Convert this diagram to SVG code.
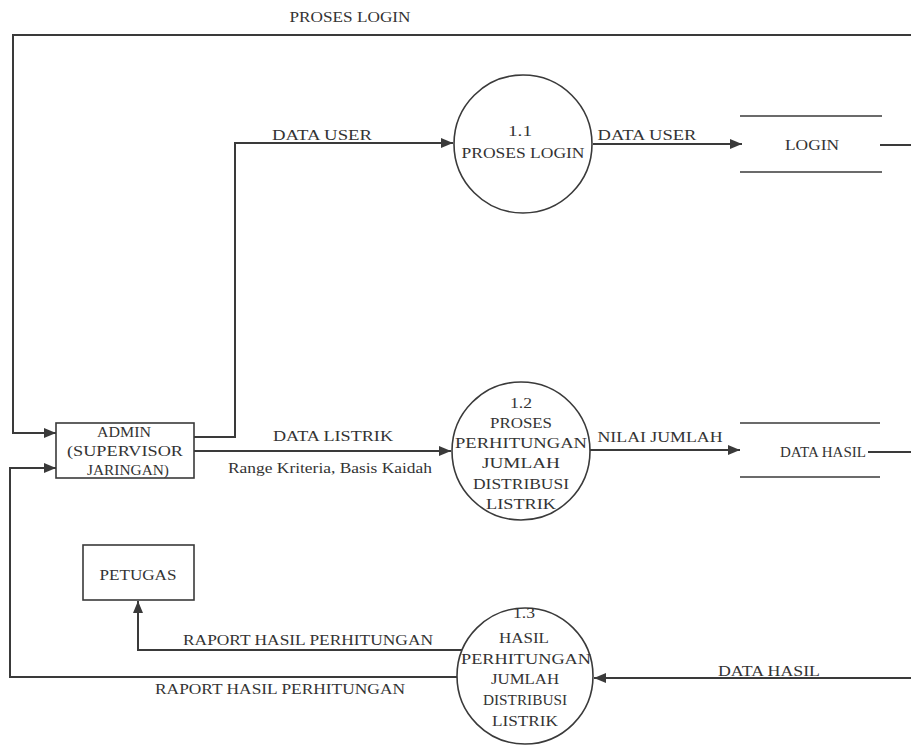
<svg xmlns="http://www.w3.org/2000/svg" width="911" height="745" viewBox="0 0 911 745">
<style>
text{font-family:'Liberation Serif','Times New Roman','DejaVu Serif',serif;font-size:14px;fill:#333;text-anchor:middle}
.ln{fill:none;stroke:#3a3a3a;stroke-width:2}
.shape{fill:#fff;stroke:#3a3a3a;stroke-width:1.6}
.st{stroke:#3a3a3a;stroke-width:1.6}
</style>
<defs>
<marker id="ar" markerUnits="userSpaceOnUse" markerWidth="13" markerHeight="11" refX="12" refY="5" orient="auto">
<path d="M0,0 L12,5 L0,10 z" fill="#3a3a3a"/>
</marker>
</defs>
<rect width="911" height="745" fill="#fff"/>
<g id="connectors">
<path class="ln" d="M911,35 H13 V433 H56" marker-end="url(#ar)"/>
<path class="ln" d="M194,437 H235 V143 H453" marker-end="url(#ar)"/>
<path class="ln" d="M593,144 H742" marker-end="url(#ar)"/>
<path class="ln" d="M880,145 H911"/>
<path class="ln" d="M194,451 H451" marker-end="url(#ar)"/>
<path class="ln" d="M590,450 H740" marker-end="url(#ar)"/>
<path class="ln" d="M868,452 H911"/>
<path class="ln" d="M911,678 H594" marker-end="url(#ar)"/>
<path class="ln" d="M462,650 H138 V601" marker-end="url(#ar)"/>
<path class="ln" d="M457,677 H10 V468 H56" marker-end="url(#ar)"/>
<text x="350" y="22" textLength="121" lengthAdjust="spacingAndGlyphs">PROSES LOGIN</text>
<text x="322" y="140" textLength="100" lengthAdjust="spacingAndGlyphs">DATA USER</text>
<text x="647" y="140" textLength="99" lengthAdjust="spacingAndGlyphs">DATA USER</text>
<text x="333" y="441" textLength="120" lengthAdjust="spacingAndGlyphs">DATA LISTRIK</text>
<text x="330" y="473" textLength="204" lengthAdjust="spacingAndGlyphs">Range Kriteria, Basis Kaidah</text>
<text x="660" y="442" textLength="125" lengthAdjust="spacingAndGlyphs">NILAI JUMLAH</text>
<text x="769" y="676" textLength="102" lengthAdjust="spacingAndGlyphs">DATA HASIL</text>
<text x="308" y="645" textLength="250" lengthAdjust="spacingAndGlyphs">RAPORT HASIL PERHITUNGAN</text>
<text x="280" y="694" textLength="250" lengthAdjust="spacingAndGlyphs">RAPORT HASIL PERHITUNGAN</text>
</g>
<g id="admin">
<rect class="shape" x="56" y="423" width="138" height="55"/>
<text x="124" y="437" textLength="54" lengthAdjust="spacingAndGlyphs">ADMIN</text>
<text x="125" y="456" textLength="116" lengthAdjust="spacingAndGlyphs">(SUPERVISOR</text>
<text x="128" y="475" textLength="82" lengthAdjust="spacingAndGlyphs">JARINGAN)</text>
</g>
<g id="petugas">
<rect class="shape" x="83" y="545" width="111" height="55"/>
<text x="138" y="580" textLength="77" lengthAdjust="spacingAndGlyphs">PETUGAS</text>
</g>
<g id="p11">
<circle class="shape" cx="523" cy="144" r="69"/>
<text x="520" y="136" textLength="24" lengthAdjust="spacingAndGlyphs">1.1</text>
<text x="523" y="158" textLength="123" lengthAdjust="spacingAndGlyphs">PROSES LOGIN</text>
</g>
<g id="p12">
<circle class="shape" cx="521" cy="451" r="69"/>
<text x="521" y="408" textLength="22" lengthAdjust="spacingAndGlyphs">1.2</text>
<text x="521" y="428" textLength="62" lengthAdjust="spacingAndGlyphs">PROSES</text>
<text x="521" y="448" textLength="132" lengthAdjust="spacingAndGlyphs">PERHITUNGAN</text>
<text x="521" y="468" textLength="78" lengthAdjust="spacingAndGlyphs">JUMLAH</text>
<text x="521" y="489" textLength="96" lengthAdjust="spacingAndGlyphs">DISTRIBUSI</text>
<text x="521" y="509" textLength="70" lengthAdjust="spacingAndGlyphs">LISTRIK</text>
</g>
<g id="p13">
<circle class="shape" cx="525" cy="676" r="68"/>
<text x="524" y="618" textLength="22" lengthAdjust="spacingAndGlyphs">1.3</text>
<text x="524" y="643" textLength="50" lengthAdjust="spacingAndGlyphs">HASIL</text>
<text x="526" y="664" textLength="130" lengthAdjust="spacingAndGlyphs">PERHITUNGAN</text>
<text x="525" y="684" textLength="68" lengthAdjust="spacingAndGlyphs">JUMLAH</text>
<text x="525" y="705" textLength="84" lengthAdjust="spacingAndGlyphs">DISTRIBUSI</text>
<text x="525" y="726" textLength="66" lengthAdjust="spacingAndGlyphs">LISTRIK</text>
</g>
<g id="login">
<line class="st" x1="740" y1="116" x2="882" y2="116"/>
<line class="st" x1="740" y1="172" x2="882" y2="172"/>
<text x="812" y="150" textLength="54" lengthAdjust="spacingAndGlyphs">LOGIN</text>
</g>
<g id="datahasil">
<line class="st" x1="740" y1="423" x2="880" y2="423"/>
<line class="st" x1="740" y1="477" x2="880" y2="477"/>
<text x="823" y="457" textLength="86" lengthAdjust="spacingAndGlyphs">DATA HASIL</text>
</g>
</svg>
